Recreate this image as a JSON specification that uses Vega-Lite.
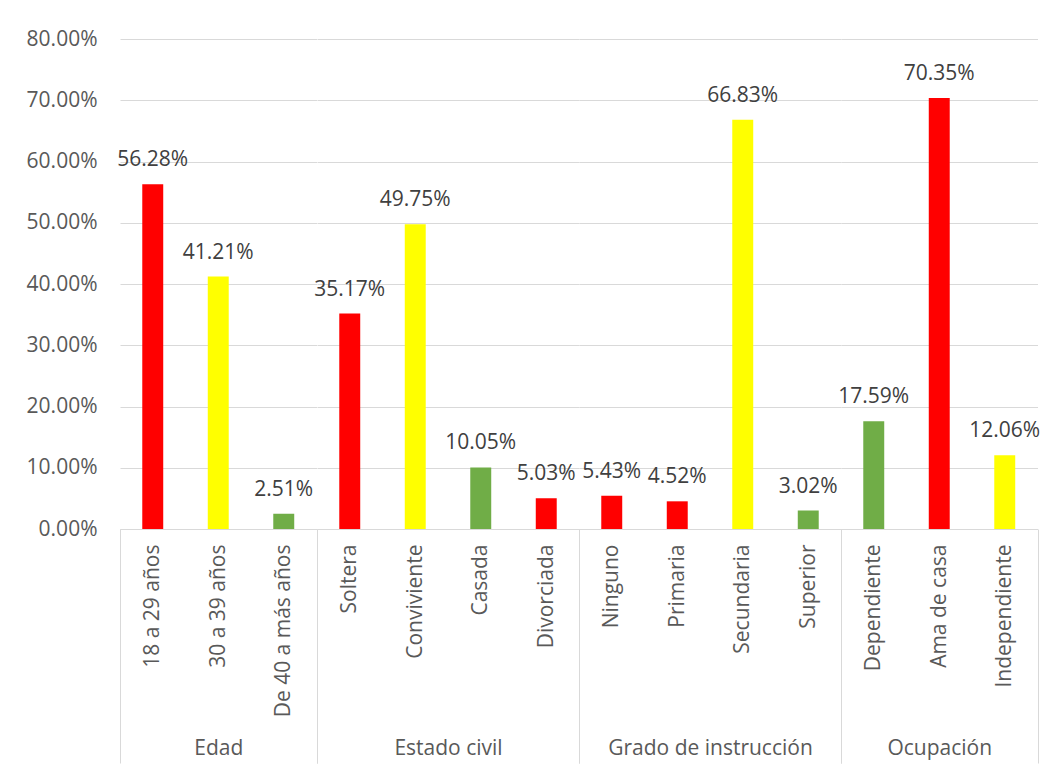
{
  "$schema": "https://vega.github.io/schema/vega-lite/v6.json",
  "autosize": {"type": "pad"},
  "padding": {"left": 26, "top": 28, "right": 5, "bottom": 5},
  "background": "white",
  "bounds": "flush",
  "spacing": 0,
  "config": {
    "view": {"stroke": null},
    "font": "Open Sans",
    "axis": {
      "labelFont": "Open Sans",
      "labelFontSize": 21,
      "labelColor": "#595959",
      "titleFont": "Open Sans",
      "titleFontSize": 21,
      "titleFontWeight": "normal",
      "titleColor": "#595959",
      "gridColor": "#d9d9d9",
      "domainColor": "#d9d9d9"
    }
  },
  "datasets": {
    "tabla": [
      {"grupo": "Edad", "categoria": "18 a 29 años", "valor": 0.5628},
      {"grupo": "Edad", "categoria": "30 a 39 años", "valor": 0.4121},
      {"grupo": "Edad", "categoria": "De 40 a más años", "valor": 0.0251},
      {"grupo": "Estado civil", "categoria": "Soltera", "valor": 0.3517},
      {"grupo": "Estado civil", "categoria": "Conviviente", "valor": 0.4975},
      {"grupo": "Estado civil", "categoria": "Casada", "valor": 0.1005},
      {"grupo": "Estado civil", "categoria": "Divorciada", "valor": 0.0503},
      {"grupo": "Grado de instrucción", "categoria": "Ninguno", "valor": 0.0543},
      {"grupo": "Grado de instrucción", "categoria": "Primaria", "valor": 0.0452},
      {"grupo": "Grado de instrucción", "categoria": "Secundaria", "valor": 0.6683},
      {"grupo": "Grado de instrucción", "categoria": "Superior", "valor": 0.0302},
      {"grupo": "Ocupación", "categoria": "Dependiente", "valor": 0.1759},
      {"grupo": "Ocupación", "categoria": "Ama de casa", "valor": 0.7035},
      {"grupo": "Ocupación", "categoria": "Independiente", "valor": 0.1206}
    ]
  },
  "data": {"name": "tabla"},
  "hconcat": [
    {
      "width": 196.5,
      "height": 490,
      "transform": [{"filter": "datum.grupo == 'Edad'"}],
      "encoding": {
        "x": {"field": "categoria", "type": "nominal", "sort": null,
          "scale": {"paddingInner": 0, "paddingOuter": 0},
          "axis": {"title": "Edad", "labelAngle": -90, "labelPadding": -219, "tickBand": "extent", "tickSize": 234,
            "tickColor": {"condition": {"test": "indexof(['18 a 29 años','30 a 39 años'], datum.value) >= 0", "value": "transparent"}, "value": "#d9d9d9"},
            "titleBaseline": "middle", "titleY": 219}},
        "y": {"field": "valor", "type": "quantitative",
          "scale": {"domain": [0, 0.8]},
          "axis": {"title": null, "format": ".2%", "values": [0, 0.1, 0.2, 0.3, 0.4, 0.5, 0.6, 0.7, 0.8], "domain": false, "ticks": false, "tickSize": 0, "labelPadding": 23}}
      },
      "layer": [
        {"mark": {"type": "bar", "width": {"band": 0.32}},
         "encoding": {"color": {"condition": [
            {"test": "indexof(['18 a 29 años','Soltera','Divorciada','Ninguno','Primaria','Ama de casa'], datum.categoria) >= 0", "value": "#FF0000"},
            {"test": "indexof(['30 a 39 años','Conviviente','Secundaria','Independiente'], datum.categoria) >= 0", "value": "#FFFF00"}],
            "value": "#70AD47"}}},
        {"mark": {"type": "text", "baseline": "alphabetic", "dy": -18, "fontSize": 21, "color": "#404040", "font": "Open Sans"},
         "encoding": {"text": {"field": "valor", "type": "quantitative", "format": ".2%"}}}
      ]
    },
    {
      "width": 262,
      "height": 490,
      "transform": [{"filter": "datum.grupo == 'Estado civil'"}],
      "encoding": {
        "x": {"field": "categoria", "type": "nominal", "sort": null,
          "scale": {"paddingInner": 0, "paddingOuter": 0},
          "axis": {"title": "Estado civil", "labelAngle": -90, "labelPadding": -219, "tickBand": "extent", "tickSize": 234,
            "tickColor": {"condition": {"test": "indexof(['Soltera','Conviviente','Casada'], datum.value) >= 0", "value": "transparent"}, "value": "#d9d9d9"},
            "titleBaseline": "middle", "titleY": 219}},
        "y": {"field": "valor", "type": "quantitative",
          "scale": {"domain": [0, 0.8]},
          "axis": {"title": null, "values": [0, 0.1, 0.2, 0.3, 0.4, 0.5, 0.6, 0.7, 0.8], "labels": false, "domain": false, "ticks": false}}
      },
      "layer": [
        {"mark": {"type": "bar", "width": {"band": 0.32}},
         "encoding": {"color": {"condition": [
            {"test": "indexof(['18 a 29 años','Soltera','Divorciada','Ninguno','Primaria','Ama de casa'], datum.categoria) >= 0", "value": "#FF0000"},
            {"test": "indexof(['30 a 39 años','Conviviente','Secundaria','Independiente'], datum.categoria) >= 0", "value": "#FFFF00"}],
            "value": "#70AD47"}}},
        {"mark": {"type": "text", "baseline": "alphabetic", "dy": -18, "fontSize": 21, "color": "#404040", "font": "Open Sans"},
         "encoding": {"text": {"field": "valor", "type": "quantitative", "format": ".2%"}}}
      ]
    },
    {
      "width": 262,
      "height": 490,
      "transform": [{"filter": "datum.grupo == 'Grado de instrucción'"}],
      "encoding": {
        "x": {"field": "categoria", "type": "nominal", "sort": null,
          "scale": {"paddingInner": 0, "paddingOuter": 0},
          "axis": {"title": "Grado de instrucción", "labelAngle": -90, "labelPadding": -219, "tickBand": "extent", "tickSize": 234,
            "tickColor": {"condition": {"test": "indexof(['Ninguno','Primaria','Secundaria'], datum.value) >= 0", "value": "transparent"}, "value": "#d9d9d9"},
            "titleBaseline": "middle", "titleY": 219}},
        "y": {"field": "valor", "type": "quantitative",
          "scale": {"domain": [0, 0.8]},
          "axis": {"title": null, "values": [0, 0.1, 0.2, 0.3, 0.4, 0.5, 0.6, 0.7, 0.8], "labels": false, "domain": false, "ticks": false}}
      },
      "layer": [
        {"mark": {"type": "bar", "width": {"band": 0.32}},
         "encoding": {"color": {"condition": [
            {"test": "indexof(['18 a 29 años','Soltera','Divorciada','Ninguno','Primaria','Ama de casa'], datum.categoria) >= 0", "value": "#FF0000"},
            {"test": "indexof(['30 a 39 años','Conviviente','Secundaria','Independiente'], datum.categoria) >= 0", "value": "#FFFF00"}],
            "value": "#70AD47"}}},
        {"mark": {"type": "text", "baseline": "alphabetic", "dy": -18, "fontSize": 21, "color": "#404040", "font": "Open Sans"},
         "encoding": {"text": {"field": "valor", "type": "quantitative", "format": ".2%"}}}
      ]
    },
    {
      "width": 196.5,
      "height": 490,
      "transform": [{"filter": "datum.grupo == 'Ocupación'"}],
      "encoding": {
        "x": {"field": "categoria", "type": "nominal", "sort": null,
          "scale": {"paddingInner": 0, "paddingOuter": 0},
          "axis": {"title": "Ocupación", "labelAngle": -90, "labelPadding": -219, "tickBand": "extent", "tickSize": 234,
            "tickColor": {"condition": {"test": "indexof(['Dependiente','Ama de casa'], datum.value) >= 0", "value": "transparent"}, "value": "#d9d9d9"},
            "titleBaseline": "middle", "titleY": 219}},
        "y": {"field": "valor", "type": "quantitative",
          "scale": {"domain": [0, 0.8]},
          "axis": {"title": null, "values": [0, 0.1, 0.2, 0.3, 0.4, 0.5, 0.6, 0.7, 0.8], "labels": false, "domain": false, "ticks": false}}
      },
      "layer": [
        {"mark": {"type": "bar", "width": {"band": 0.32}},
         "encoding": {"color": {"condition": [
            {"test": "indexof(['18 a 29 años','Soltera','Divorciada','Ninguno','Primaria','Ama de casa'], datum.categoria) >= 0", "value": "#FF0000"},
            {"test": "indexof(['30 a 39 años','Conviviente','Secundaria','Independiente'], datum.categoria) >= 0", "value": "#FFFF00"}],
            "value": "#70AD47"}}},
        {"mark": {"type": "text", "baseline": "alphabetic", "dy": -18, "fontSize": 21, "color": "#404040", "font": "Open Sans"},
         "encoding": {"text": {"field": "valor", "type": "quantitative", "format": ".2%"}}}
      ]
    }
  ]
}
